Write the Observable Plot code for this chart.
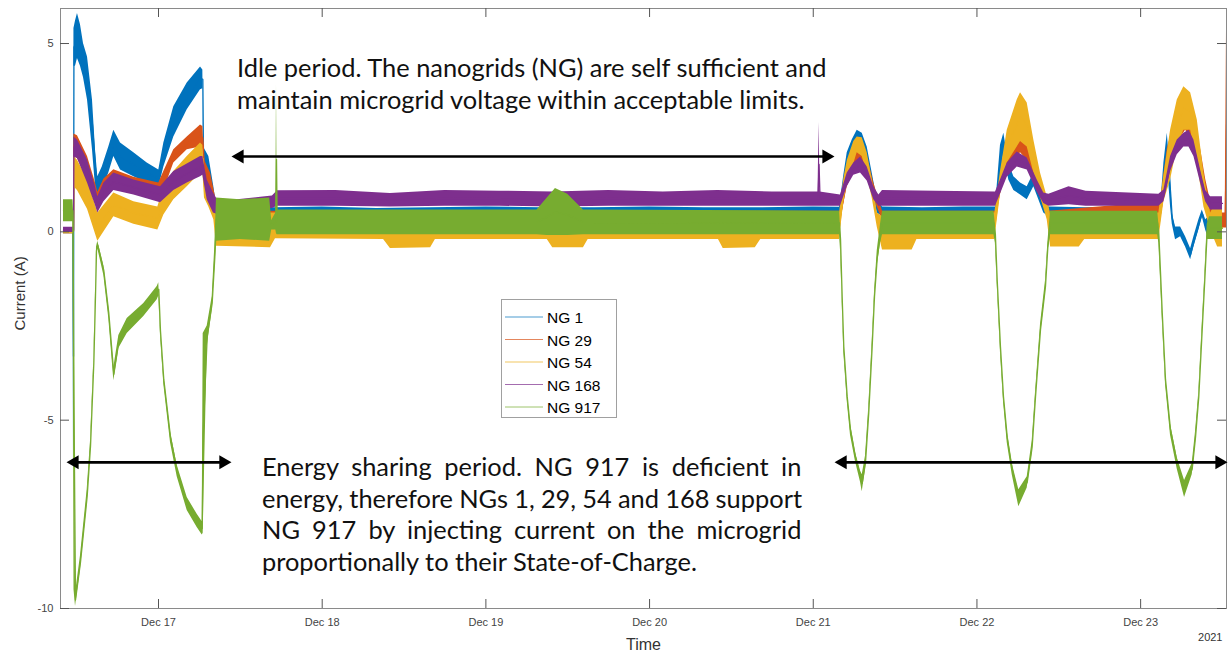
<!DOCTYPE html>
<html><head><meta charset="utf-8">
<script src="https://cdn.jsdelivr.net/npm/d3@7"></script>
<script src="https://cdn.jsdelivr.net/npm/@observablehq/plot@0.6"></script>
<style>
body{margin:0;background:#fff;overflow:hidden;}
</style></head><body><div id="chart"></div>
<script>
// ---------- data (time in hours since 2021-12-16 00:00, current band low/high in A) ----------
const seriesNames = ["NG 1", "NG 29", "NG 54", "NG 168", "NG 917"];
const seriesColors = ["#0072BD", "#D95319", "#EDB120", "#7E2F8E", "#77AC30"];

const ng1 = [
 [10.07,-0.05,0.1],[11.46,-0.05,0.1],[11.54,-6.7,0.1],[11.6,4.4,5.4],[11.83,4.4,5.6],[12.12,4.6,5.8],[12.56,4.4,5.5],
 [13.0,4.1,5.0],[13.59,3.5,4.64],[14.32,2.18,3.5],[14.76,1.2,2.18],[15.1,0.93,1.46],[15.75,1.11,1.72],[16.71,1.56,2.25],
 [17.45,2.0,2.7],[18.43,1.64,2.36],[20.38,1.46,2.1],[22.34,1.3,1.83],[24.04,1.17,1.64],[24.78,1.72,2.36],[26.24,2.52,3.32],
 [28.21,3.24,3.95],[30.16,3.77,4.38],[30.5,3.8,4.3],[30.6,1.56,2.25],[31.38,1.2,2.0],[32.11,0.66,1.2],[32.5,0.4,0.7],
 [36,0.42,0.66],[41,0.42,0.64],[48,0.4,0.66],[56,0.38,0.62],[64,0.4,0.64],[72,0.42,0.66],[80,0.4,0.64],[88,0.4,0.64],
 [96,0.42,0.66],[104,0.4,0.64],[112,0.4,0.64],[120,0.42,0.66],[123.85,0.4,0.65],
 [124.48,1.1,1.5],[124.98,1.56,2.1],[125.71,2.0,2.44],[126.44,2.18,2.7],[127.18,2.18,2.62],[127.91,1.72,2.25],
 [128.64,1.11,1.56],[129.38,0.5,0.85],[130.15,0.4,0.66],[136,0.38,0.64],[142,0.4,0.66],[146.72,0.4,0.66],
 [147.45,1.38,2.3],[147.94,2.1,2.62],[148.67,1.38,1.83],[149.41,1.1,1.46],[150.39,0.98,1.3],[151.37,0.85,1.2],
 [152.34,1.2,1.56],[153.07,0.85,1.2],[153.8,0.5,0.93],[154.54,0.4,0.66],[160,0.38,0.64],[166,0.4,0.66],[170.92,0.4,0.66],
 [171.41,1.11,1.83],[171.91,1.83,2.62],[172.39,0.66,1.46],[172.64,0.2,0.5],[173.12,-0.21,0.13],[173.86,-0.13,0.13],
 [174.59,-0.4,-0.13],[175.33,-0.74,-0.45],[175.81,-0.4,-0.13],[176.54,0.05,0.32],[177.04,0.4,0.58],[177.53,0.05,0.32],
 [178.01,-0.2,0.4],[178.26,0.35,0.62],[180.0,0.35,0.62]
];
const ng29 = [
 [10.07,-0.05,0.1],[11.54,-0.05,0.1],[11.6,2.0,2.6],[12.12,1.95,2.55],[13.59,1.4,2.0],[14.76,0.75,1.3],[15.1,0.6,1.05],
 [16.0,0.9,1.4],[17.45,1.15,1.65],[20.38,1.05,1.45],[24.04,0.85,1.3],[24.78,1.1,1.6],[26.24,1.83,2.18],[28.21,2.18,2.52],
 [30.16,2.25,2.84],[30.5,2.2,2.8],[30.74,1.38,1.91],[31.62,1.03,1.56],[32.36,0.58,0.93],[32.8,0.3,0.6],
 [40,0.3,0.55],[60,0.28,0.55],[80,0.3,0.55],[100,0.28,0.55],[123.99,0.3,0.55],
 [124.98,1.2,1.7],[125.94,1.6,2.1],[126.93,1.8,2.3],[127.91,1.5,2.0],[128.88,0.9,1.3],[130.15,0.3,0.55],
 [146.72,0.3,0.55],[147.45,1.0,1.5],[148.44,1.7,2.2],[149.9,2.0,2.5],[150.39,2.1,2.6],[151.37,1.9,2.4],[152.34,1.4,1.9],
 [153.32,0.9,1.3],[154.54,0.3,0.55],[170.92,0.3,0.8],[171.91,1.4,2.2],[172.64,2.0,2.7],[173.86,2.5,3.0],[174.59,2.7,3.1],
 [175.81,2.4,2.9],[176.79,1.6,2.2],[177.53,0.9,1.4],[178.26,0.4,0.8],[180.0,0.1,0.5],[180.4,0.1,0.5],[180.6,0.1,5.6]
];
const ng54 = [
 [10.07,-0.05,0.1],[11.54,-0.05,0.1],[11.6,1.2,2.0],[12.12,1.1,1.9],[13.59,0.6,1.4],[15.1,-0.25,0.5],[17.45,0.4,1.03],
 [20.38,0.2,0.8],[23.9,0.05,0.66],[24.78,0.45,1.2],[26.24,0.85,1.6],[28.21,1.2,2.0],[30.16,1.56,2.36],[30.5,1.6,2.3],
 [30.74,0.9,1.5],[31.38,0.66,1.2],[32.11,0.32,0.77],[32.5,-0.38,0.5],[40.42,-0.42,0.5],[41.15,-0.18,0.5],
 [57.0,-0.2,0.5],[58.0,-0.44,0.45],[63.9,-0.42,0.45],[64.6,-0.2,0.5],[81.0,-0.2,0.5],[81.8,-0.42,0.45],[86.3,-0.42,0.45],
 [87,-0.2,0.5],[106.1,-0.2,0.5],[106.8,-0.44,0.45],[111.5,-0.42,0.45],[112.3,-0.2,0.5],[123.85,-0.2,0.5],
 [124.48,0.8,1.4],[125.0,1.3,1.9],[125.94,1.8,2.4],[126.44,2.1,2.52],[127.18,2.0,2.5],[127.91,1.5,2.1],[128.64,0.9,1.4],
 [129.38,0.13,0.5],[130.15,-0.48,0.4],[134.5,-0.48,0.4],[135.2,-0.2,0.5],[146.62,-0.2,0.5],
 [147.45,1.0,1.6],[148.44,1.83,2.7],[149.9,2.25,3.5],[150.39,2.4,3.69],[151.37,2.25,3.42],[152.34,1.56,2.44],
 [153.32,0.93,1.56],[154.3,0.32,0.93],[154.8,-0.4,0.45],[159.0,-0.4,0.45],[159.8,-0.2,0.5],[170.67,-0.2,0.5],
 [171.41,0.8,1.5],[172.39,1.38,2.7],[173.37,2.25,3.5],[174.34,2.7,3.85],[175.33,2.7,3.69],[176.31,1.83,2.97],
 [177.28,0.66,1.56],[178.26,0.05,0.5],[179.29,-0.4,0.85],[180.0,-0.4,0.6]
];
const ng168 = [
 [10.07,-0.02,0.12],[11.54,-0.02,0.12],[11.6,1.99,2.52],[12.12,1.95,2.44],[13.59,1.3,1.91],[14.76,0.7,1.2],[15.1,0.5,0.93],
 [16.0,0.8,1.3],[17.45,1.1,1.56],[20.38,0.98,1.38],[24.29,0.77,1.2],[26.24,1.1,1.6],[28.21,1.3,1.8],[30.16,1.46,2.0],
 [30.5,1.5,2.0],[31.14,0.85,1.38],[32.06,0.5,1.03],[32.8,0.45,0.8],[39.0,0.6,0.92],[40.7,0.62,0.95],[41.45,0.68,1.09],
 [50,0.68,1.1],[58,0.66,1.02],[66,0.68,1.1],[74,0.68,1.08],[82,0.66,1.06],[90,0.68,1.1],[98,0.68,1.06],[106,0.68,1.1],
 [114,0.68,1.06],[120.7,0.68,1.06],[120.85,0.68,2.9],[121.0,0.68,1.06],[123.99,0.68,0.98],
 [124.98,1.2,1.56],[125.94,1.5,1.83],[126.93,1.56,1.99],[127.91,1.35,1.72],[128.88,0.85,1.2],[129.62,0.68,0.98],
 [130.15,0.68,1.1],[138,0.68,1.08],[146.72,0.68,1.06],[147.45,1.0,1.38],[148.44,1.45,1.83],[149.9,1.72,2.12],
 [151.37,1.64,1.96],[152.84,1.05,1.38],[153.8,0.75,1.03],[154.54,0.68,1.0],[157.5,0.72,1.2],[160,0.68,1.08],
 [170.67,0.68,1.0],[171.41,0.8,1.11],[172.39,1.6,2.0],[173.37,2.05,2.44],[174.34,2.25,2.62],[175.08,2.25,2.7],
 [175.81,2.0,2.44],[176.79,1.3,1.64],[177.53,0.8,1.1],[178.26,0.58,0.93],[180.0,0.58,0.93]
];
const ng917 = [
 [10.07,0.27,0.85],[11.46,0.27,0.85],[11.61,-9.5,0.3],[11.83,-9.95,-9.6],[12.56,-8.95,-8.6],[13.54,-7.2,-6.85],
 [14.03,-5.85,-5.55],[14.52,-3.6,-3.35],[14.76,-1.85,-1.6],[14.91,-0.6,-0.4],[15.1,-0.45,-0.25],[15.98,-1.15,-0.9],
 [16.71,-2.3,-2.0],[17.45,-3.95,-3.6],[18.18,-3.1,-2.75],[19.41,-2.7,-2.3],[21.84,-2.25,-1.9],[23.81,-1.8,-1.45],
 [24.04,-1.7,-1.35],[24.29,-2.75,-2.5],[24.78,-4.05,-3.8],[25.76,-5.6,-5.3],[26.74,-6.5,-6.2],[28.21,-7.4,-7.05],
 [29.67,-7.85,-7.5],[30.41,-8.05,-7.7],[30.55,-8.0,-2.7],[31.14,-3.05,-2.5],[31.87,-2.07,-1.72],[32.25,-1.0,-0.4],
 [32.5,-0.25,0.9],[36,-0.2,0.85],[40.3,-0.25,0.9],[40.6,0.05,0.3],[41.2,0.05,0.5],[41.3,-0.05,3.9],[41.4,-0.08,0.58],
 [79.5,-0.08,0.58],[81,-0.1,0.9],[82.2,-0.1,1.15],[84,-0.1,1.0],[86.3,-0.08,0.58],[123.85,-0.08,0.55],
 [124.0,-0.5,0.1],[124.24,-1.85,-1.6],[124.48,-3.2,-2.9],[124.98,-4.5,-4.25],[125.46,-5.4,-5.1],[126.19,-6.1,-5.85],
 [126.93,-6.65,-6.35],[127.18,-6.9,-6.45],[127.66,-6.3,-5.95],[128.14,-4.95,-4.65],[128.64,-3.2,-2.9],
 [128.98,-1.85,-1.6],[129.38,-0.9,-0.5],[129.86,-0.3,0.2],[130.15,-0.08,0.55],[146.5,-0.08,0.55],
 [146.7,-0.3,0.2],[146.97,-1.4,-1.15],[147.45,-3.2,-2.9],[147.89,-4.5,-4.25],[148.44,-5.6,-5.3],[149.17,-6.45,-6.15],
 [150.14,-7.3,-6.85],[151.37,-6.8,-6.5],[152.1,-5.85,-5.55],[152.59,-4.5,-4.25],[153.32,-2.75,-2.45],
 [154.05,-1.6,-1.3],[154.39,-0.55,-0.3],[154.79,-0.08,0.55],[170.5,-0.08,0.55],[170.67,-0.3,0.2],
 [171.17,-2.3,-2.0],[171.65,-4.05,-3.8],[172.38,-5.4,-5.1],[173.37,-6.3,-6.0],[174.44,-7.05,-6.6],
 [175.56,-6.45,-6.15],[176.05,-5.6,-5.3],[176.53,-4.5,-4.25],[177.03,-2.75,-2.45],[177.41,-1.4,-1.15],
 [177.76,-0.2,0.2],[178.1,-0.2,0.4],[179.2,-0.2,0.4],[180.0,-0.2,0.4]
];

const dayTicks = [17, 18, 19, 20, 21, 22, 23];
const yTicks = [-10, -5, 0, 5];
const xDomainHours = [9.63, 180.59];
const yDomain = [-10, 5.93];

// annotation arrows (hours, current)
const arrowSpans = [
  {x1: 34.70, x2: 123.12, y: 2.0},
  {x1: 10.51, x2: 34.70, y: -6.12},
  {x1: 123.12, x2: 180.74, y: -6.12}
];
const idleLines = ["Idle period. The nanogrids (NG) are self sufficient and",
                   "maintain microgrid voltage within acceptable limits."];
const energyLines = ["Energy sharing period. NG 917 is deficient in",
                     "energy, therefore NGs 1, 29, 54 and 168 support",
                     "NG 917 by injecting current on the microgrid",
                     "proportionally to their State-of-Charge."];

// ---------- build ----------
const W = 1228, H = 653, mL = 60, mR = 2, mT = 8, mB = 45;
const innerW = W - mL - mR, innerH = H - mT - mB;
const t0 = new Date(2021, 11, 16).getTime();
const toDate = h => new Date(t0 + h * 3600e3);
const tickDates = dayTicks.map(d => new Date(2021, 11, d));

const series = [ng1, ng29, ng54, ng168, ng917].map((arr, i) => ({
  name: seriesNames[i], color: seriesColors[i],
  rows: arr.map(([t, lo, hi]) => ({date: toDate(t), lo, hi, mid: (lo + hi) / 2}))
}));
const arrowRows = arrowSpans.map(a => ({x1: toDate(a.x1), x2: toDate(a.x2), y: a.y}));

const marks = [];
for (const s of series) {
  marks.push(Plot.areaY(s.rows, {x: "date", y1: "lo", y2: "hi", fill: s.color, clip: true}));
  marks.push(Plot.line(s.rows, {x: "date", y: "mid", stroke: s.color, strokeWidth: 1.3, clip: true}));
}
const axisGrey = "#8a8a8a";
marks.push(
  Plot.frame({stroke: axisGrey}),
  Plot.tickX(tickDates, {x: d => d, insetTop: innerH - 9, stroke: "#555"}),
  Plot.tickX(tickDates, {x: d => d, insetBottom: innerH - 9, stroke: "#555"}),
  Plot.tickY(yTicks, {y: d => d, insetRight: innerW - 9, stroke: "#555"}),
  Plot.tickY(yTicks, {y: d => d, insetLeft: innerW - 9, stroke: "#555"}),
  Plot.axisX({ticks: tickDates, tickFormat: d3.timeFormat("%b %d"), tickSize: 0, tickPadding: 10, fontSize: 11, label: null, color: "#444"}),
  Plot.axisY({ticks: yTicks, tickFormat: d => String(d), tickSize: 0, tickPadding: 7, fontSize: 11, label: null, color: "#444"}),
  Plot.text(["Time"], {text: d => d, frameAnchor: "bottom", dy: 41, fontSize: 16, fill: "#333"}),
  Plot.text(["2021"], {text: d => d, frameAnchor: "bottom-right", textAnchor: "end", dx: -4, dy: 32, fontSize: 11, fill: "#333"}),
  Plot.text(["Current (A)"], {text: d => d, frameAnchor: "left", rotate: -90, dx: -40, dy: 22, fontSize: 15, fill: "#333"}),
  Plot.ruleY(arrowRows, {y: "y", x1: "x1", x2: "x2", stroke: "#000", strokeWidth: 2.6, insetLeft: 6, insetRight: 6}),
  Plot.dot(arrowRows, {x: "x1", y: "y", symbol: "triangle", r: 5.2, fill: "#000", rotate: -90, dx: 8.1}),
  Plot.dot(arrowRows, {x: "x2", y: "y", symbol: "triangle", r: 5.2, fill: "#000", rotate: 90, dx: -8.1})
);

const plot = Plot.plot({
  width: W, height: H,
  marginLeft: mL, marginRight: mR, marginTop: mT, marginBottom: mB,
  x: {type: "time", domain: xDomainHours.map(toDate)},
  y: {domain: yDomain},
  style: {fontFamily: "'Liberation Sans', Arial, sans-serif", background: "#fff", overflow: "visible"},
  marks
});
document.getElementById("chart").appendChild(plot);

// ---------- annotation text & legend ----------
const svg = d3.select(plot);
const ctx = document.createElement("canvas").getContext("2d");
const annFamily = "Lato";
function textW(s, fs) { ctx.font = `${fs}px ${annFamily}`; return ctx.measureText(s).width; }
const fs = 100 * 591 / textW(idleLines[0], 100);

const ann = svg.append("g").attr("text-anchor", "start").attr("font-family", annFamily)
  .attr("font-size", fs).attr("fill", "#111");
idleLines.forEach((s, i) => {
  ann.append("text").attr("x", 237).attr("y", 77 + i * 31.5).attr("text-anchor", "start").text(s);
});
energyLines.forEach((s, i) => {
  const t = ann.append("text").attr("x", 262).attr("y", 476 + i * 31.5).attr("text-anchor", "start").text(s);
  if (i < energyLines.length - 1) {
    const n = s.split(" ").length - 1;
    const ws = (540 - textW(s, fs)) / n;
    t.style("word-spacing", ws + "px");
  }
});

const lg = svg.append("g").attr("text-anchor", "start");
lg.append("rect").attr("x", 501.5).attr("y", 299.5).attr("width", 115).attr("height", 118)
  .attr("fill", "#fff").attr("stroke", "#a0a0a0");
series.forEach((s, i) => {
  const base = 323 + i * 22.5;
  lg.append("line").attr("x1", 505).attr("x2", 543).attr("y1", base - 6).attr("y2", base - 6)
    .attr("stroke", s.color).attr("stroke-width", 1).attr("opacity", 0.7);
  lg.append("text").attr("x", 547).attr("y", base).attr("font-size", 15.5).attr("text-anchor", "start")
    .attr("font-family", "'Liberation Sans', Arial, sans-serif").attr("fill", "#000").text(s.name);
});
</script></body></html>
